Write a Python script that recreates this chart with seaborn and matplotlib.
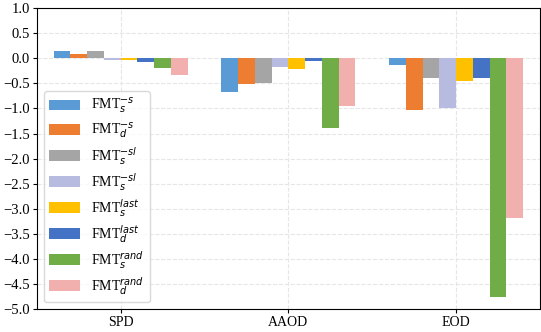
import seaborn as sns
import matplotlib.pyplot as plt
import numpy as np
import pandas as pd

metrics = ["SPD", "AAOD", "EOD"]
methods = ["FMT$_s^{-s}$", "FMT$_d^{-s}$", "FMT$_s^{-sl}$", "FMT$_s^{-sl}$ ",
           "FMT$_s^{last}$", "FMT$_d^{last}$", "FMT$_s^{rand}$", "FMT$_d^{rand}$"]
colors = ["#5B9BD5", "#ED7D31", "#A5A5A5", "#B7BBE0",
          "#FFC000", "#4472C4", "#70AD47", "#F1B0AE"]

# one list per method: SPD, AAOD, EOD
spd = [0.14, 0.08, 0.14, -0.03, -0.045, -0.08, -0.20, -0.33]
aaod = [-0.68, -0.52, -0.50, -0.17, -0.21, -0.05, -1.39, -0.95]
eod = [-0.13, -1.03, -0.39, -1.00, -0.45, -0.39, -4.76, -3.18]

rows = []
for i, m in enumerate(methods):
    rows.append(("SPD", m, spd[i]))
    rows.append(("AAOD", m, aaod[i]))
    rows.append(("EOD", m, eod[i]))
df = pd.DataFrame(rows, columns=["metric", "method", "value"])

plt.rcParams["font.family"] = ["Liberation Serif", "DejaVu Serif"]
plt.rcParams["font.size"] = 10

fig, ax = plt.subplots(figsize=(5.41, 3.32), dpi=100)
sns.barplot(data=df, x="metric", y="value", hue="method", order=metrics,
            hue_order=methods, palette=colors, width=0.8, gap=0,
            saturation=1, ax=ax)

ax.set_ylim(-5, 1)
ax.set_yticks(np.arange(-5, 1.01, 0.5))
ax.set_xlabel("")
ax.set_ylabel("")
ax.tick_params(axis="x", length=3, pad=2, labelsize=10)
ax.tick_params(axis="y", length=3, pad=2, labelsize=10.5)
ax.set_axisbelow(True)
ax.grid(True, linestyle="--", color="#e6e6e6", linewidth=0.8)
ax.legend(loc="lower left", fontsize=10, frameon=True, edgecolor="#d0d0d0",
          labelspacing=0.3, handlelength=2.2, handleheight=0.8)

plt.subplots_adjust(left=0.068, right=0.998, top=0.976, bottom=0.068)
plt.savefig("out.png", dpi=100)
